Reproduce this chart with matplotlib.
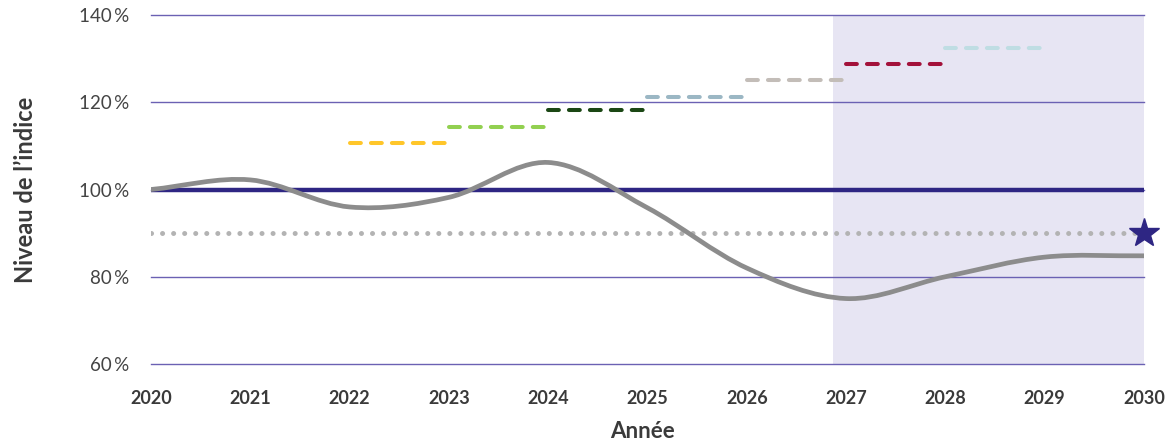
import numpy as np
import matplotlib
matplotlib.use("Agg")
import matplotlib.pyplot as plt
from matplotlib.path import Path
from matplotlib.patches import PathPatch
from matplotlib.ticker import FuncFormatter

# Index level per year
years = [2020, 2021, 2022, 2023, 2024, 2025, 2026, 2027, 2028, 2029, 2030]
index_level = [100, 102.2, 96.0, 98.2, 106.2, 95.8, 82.0, 75.0, 80.0, 84.5, 84.8]

# Reference and threshold levels
base_level = 100
threshold_level = 90

# Annual targets (start year, level)
target_start = [2022, 2023, 2024, 2025, 2026, 2027, 2028]
target_level = [110.7, 114.3, 118.2, 121.2, 125.1, 128.8, 132.4]
target_colors = ["#FFC629", "#92D050", "#1B4714", "#9BB7C4", "#C3BDB8", "#A3113A", "#BFDDE3"]

# Projection period
projection_start = 2026.87
projection_end = 2030

y_ticks = [60, 80, 100, 120, 140]
x_ticks = list(range(2020, 2031))

NAVY = "#2E2683"
GRID = "#6B61B3"

plt.rcParams["font.family"] = ["Source Sans Pro", "Lato", "DejaVu Sans"]

fig = plt.figure(figsize=(11.74, 4.48), dpi=100)
ax = fig.add_axes([0.1286, 0.1875, 0.8458, 0.779])
ax.set_xlim(2020, 2030)
ax.set_ylim(60, 140)

# Shaded projection period
ax.axvspan(projection_start, projection_end, color="#E7E5F3", lw=0, zorder=0)

# Horizontal grid
for yt in y_ticks:
    ax.axhline(yt, color=GRID, lw=1.0, zorder=1, clip_on=False)

# Threshold (dotted) and base (solid) lines
ax.plot([years[0], years[-1]], [threshold_level] * 2, color="#B3B3B3", lw=3.6,
        dash_capstyle="round", dashes=(0.01, 2.2), zorder=2)
ax.plot([years[0], years[-1]], [base_level] * 2, color=NAVY, lw=3.2,
        solid_capstyle="round", zorder=3)

# Annual target dashes
for start, lvl, col in zip(target_start, target_level, target_colors):
    ax.plot([start, start + 0.96], [lvl, lvl], color=col, lw=2.9,
            dash_capstyle="round", dashes=(2.7, 2.5), zorder=3)

# Smoothed index curve (Catmull-Rom as cubic Bezier segments)
xs = np.array(years, dtype=float)
ys = np.array(index_level, dtype=float)
n = len(xs)
tang = np.zeros((n, 2))
for i in range(n):
    a = max(i - 1, 0)
    b = min(i + 1, n - 1)
    tang[i] = [(xs[b] - xs[a]) / 2, (ys[b] - ys[a]) / 2]
    if i in (0, n - 1):
        tang[i] *= 2
verts = [(xs[0], ys[0])]
codes = [Path.MOVETO]
for i in range(n - 1):
    p0 = np.array([xs[i], ys[i]])
    p1 = np.array([xs[i + 1], ys[i + 1]])
    c1 = p0 + tang[i] / 3
    c2 = p1 - tang[i + 1] / 3
    verts += [tuple(c1), tuple(c2), tuple(p1)]
    codes += [Path.CURVE4] * 3
ax.add_patch(PathPatch(Path(verts, codes), facecolor="none", edgecolor="#8C8C8C",
                       lw=3.4, capstyle="round", zorder=4))

# Star marker at the end of the threshold line
ax.plot([years[-1]], [threshold_level], marker="*", markersize=22, color=NAVY,
        markeredgecolor=NAVY, clip_on=False, zorder=5)

for s in ax.spines.values():
    s.set_visible(False)
ax.set_yticks(y_ticks)
ax.yaxis.set_major_formatter(FuncFormatter(lambda v, p: f"{int(v)}\u2009%"))
ax.set_xticks(x_ticks)
ax.tick_params(axis="both", length=0)
ax.tick_params(axis="y", labelsize=13.5, labelcolor="#444444", pad=16)
ax.tick_params(axis="x", labelsize=13, labelcolor="#3A3A3A", pad=19)
for lab in ax.get_xticklabels():
    lab.set_fontweight("bold")

ax.set_xlabel("Année", fontsize=16, fontweight="bold", color="#3A3A3A")
ax.xaxis.set_label_coords(0.495, -0.163)
ax.set_ylabel("Niveau de l\u2019indice", fontsize=17, fontweight="bold", color="#3A3A3A")
ax.yaxis.set_label_coords(-0.115, 0.5)

fig.savefig("out.png", dpi=100)
